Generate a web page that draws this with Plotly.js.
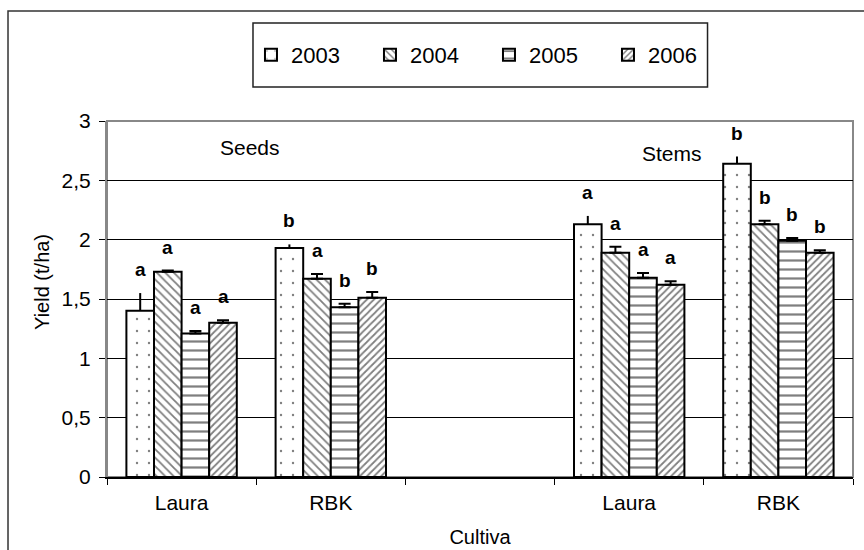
<!DOCTYPE html>
<html>
<head>
<meta charset="utf-8">
<script src="https://cdn.plot.ly/plotly-3.0.1.min.js"></script>
<style>html,body{margin:0;padding:0;background:#fff;}#chart{width:864px;height:550px;}</style>
</head>
<body>
<div id="chart"></div>
<script>
// ---- data ----
const categories = ["Laura", "RBK", "", "Laura", "RBK"];
const years = ["2003", "2004", "2005", "2006"];
const y2003 = [1.40, 1.93, null, 2.13, 2.64];
const y2004 = [1.73, 1.67, null, 1.89, 2.13];
const y2005 = [1.21, 1.43, null, 1.68, 1.99];
const y2006 = [1.30, 1.51, null, 1.62, 1.89];
const e2003 = [0.15, 0.03, null, 0.07, 0.06];
const e2004 = [0.01, 0.04, null, 0.05, 0.03];
const e2005 = [0.02, 0.03, null, 0.04, 0.025];
const e2006 = [0.02, 0.05, null, 0.03, 0.02];
const l2003 = ["a", "b", "", "a", "b"];
const l2004 = ["a", "a", "", "a", "b"];
const l2005 = ["a", "b", "", "a", "b"];
const l2006 = ["a", "b", "", "a", "b"];
const yTickVals = [0, 0.5, 1, 1.5, 2, 2.5, 3];
const yTickText = ["0", "0,5", "1", "1,5", "2", "2,5", "3"];
const groupLabels = ["Seeds", "Stems"];
const yTitle = "Yield (t/ha)";
const xTitle = "Cultiva";

const values = [y2003, y2004, y2005, y2006];
const errors = [e2003, e2004, e2005, e2006];
const letters = [l2003, l2004, l2005, l2006];
const patterns = [
  {shape: ".", size: 12, solidity: 0.03},
  {shape: "\\", size: 6, solidity: 0.3},
  {shape: "-", size: 9, solidity: 0.25},
  {shape: "/", size: 5, solidity: 0.35}
];
const capWidths = [0, 6, 6, 6];

const xIdx = categories.map((c, i) => i);
const FONT = "Arial, 'Liberation Sans', sans-serif";
const INK = "#000000";
const bargap = 0.26;
const bw = (1 - bargap) / years.length;

const traces = years.map((yr, k) => ({
  type: "bar",
  name: yr,
  x: xIdx,
  y: values[k],
  marker: {
    color: "#ffffff",
    line: {color: "#000000", width: 2},
    pattern: Object.assign({fgcolor: "#000000", bgcolor: "#ffffff", fillmode: "overlay"}, patterns[k])
  },
  error_y: {
    type: "data", symmetric: false,
    array: errors[k], arrayminus: errors[k].map(v => 0),
    color: "#000000", thickness: 2, width: capWidths[k]
  },
  hoverinfo: "skip"
}));

const annotations = [];
years.forEach((yr, k) => {
  xIdx.forEach((xi, i) => {
    if (values[k][i] == null || !letters[k][i]) return;
    annotations.push({
      x: xi + (k - 1.5) * bw,
      y: values[k][i] + errors[k][i],
      xref: "x", yref: "y",
      text: "<b>" + letters[k][i] + "</b>",
      showarrow: false, yanchor: "bottom", yshift: 11,
      font: {family: FONT, size: 19, color: INK}
    });
  });
});
annotations.push({x: 0.46, y: 2.78, xref: "x", yref: "y", text: groupLabels[0], showarrow: false,
  font: {family: FONT, size: 21, color: INK}});
annotations.push({x: 3.29, y: 2.73, xref: "x", yref: "y", text: groupLabels[1], showarrow: false,
  font: {family: FONT, size: 21, color: INK}});
// y-axis title, placed as in the original (slightly above plot centre)
annotations.push({x: -0.0871, y: 0.548, xref: "paper", yref: "paper", text: yTitle, textangle: -90,
  showarrow: false, xanchor: "center", yanchor: "middle",
  font: {family: FONT, size: 20, color: INK}});

const layout = {
  width: 864, height: 550,
  margin: {l: 107, r: 11, t: 121, b: 73},
  paper_bgcolor: "#ffffff", plot_bgcolor: "#ffffff",
  font: {family: FONT, size: 20, color: INK},
  barmode: "group", bargap: bargap, bargroupgap: 0,
  showlegend: true,
  legend: {
    orientation: "h", x: 0.193, xanchor: "left", y: 1.1854, yanchor: "middle",
    bgcolor: "rgba(0,0,0,0)", borderwidth: 0,
    font: {family: FONT, size: 22, color: INK},
    entrywidth: 74, entrywidthmode: "pixels", itemwidth: 30,
    traceorder: "normal"
  },
  xaxis: {
    range: [-0.5, 4.5],
    tickmode: "array", tickvals: [0, 1, 3, 4], ticktext: [categories[0], categories[1], categories[3], categories[4]],
    ticks: "", showgrid: false, zeroline: false,
    showline: true, linecolor: "#000000", linewidth: 1.5,
    ticklabelstandoff: 6,
    tickfont: {family: FONT, size: 21, color: INK},
    minor: {tickmode: "linear", tick0: -0.5, dtick: 1, ticks: "outside", ticklen: 6, tickcolor: "#000", tickwidth: 1, showgrid: false},
    title: {text: xTitle, font: {family: FONT, size: 20, color: INK}, standoff: 17},
    fixedrange: true
  },
  yaxis: {
    range: [0, 3],
    tickmode: "array", tickvals: yTickVals, ticktext: yTickText,
    ticks: "outside", ticklen: 6, tickcolor: "#000", tickwidth: 1,
    showgrid: true, gridcolor: "#000000", gridwidth: 1,
    zeroline: false,
    showline: true, linecolor: "#888888", linewidth: 2,
    ticklabelstandoff: 4,
    tickfont: {family: FONT, size: 21, color: INK},
    fixedrange: true
  },
  shapes: [
    {type: "rect", xref: "paper", yref: "paper", x0: -0.1327, x1: 1.03, y0: -0.25, y1: 1.309,
     line: {color: "#333333", width: 1.5}, fillcolor: "rgba(0,0,0,0)", layer: "below"},
    {type: "rect", xref: "paper", yref: "paper", x0: 0, x1: 1, y0: 0, y1: 1,
     line: {color: "#888888", width: 2}, fillcolor: "rgba(0,0,0,0)", layer: "below"},
    {type: "rect", xref: "paper", yref: "paper", x0: 0.1957, x1: 0.805, y0: 1.0955, y1: 1.275,
     line: {color: "#222222", width: 1.5}, fillcolor: "#ffffff", layer: "below"}
  ],
  annotations: annotations
};

Plotly.newPlot("chart", traces, layout, {displayModeBar: false, staticPlot: true});
</script>
</body>
</html>
